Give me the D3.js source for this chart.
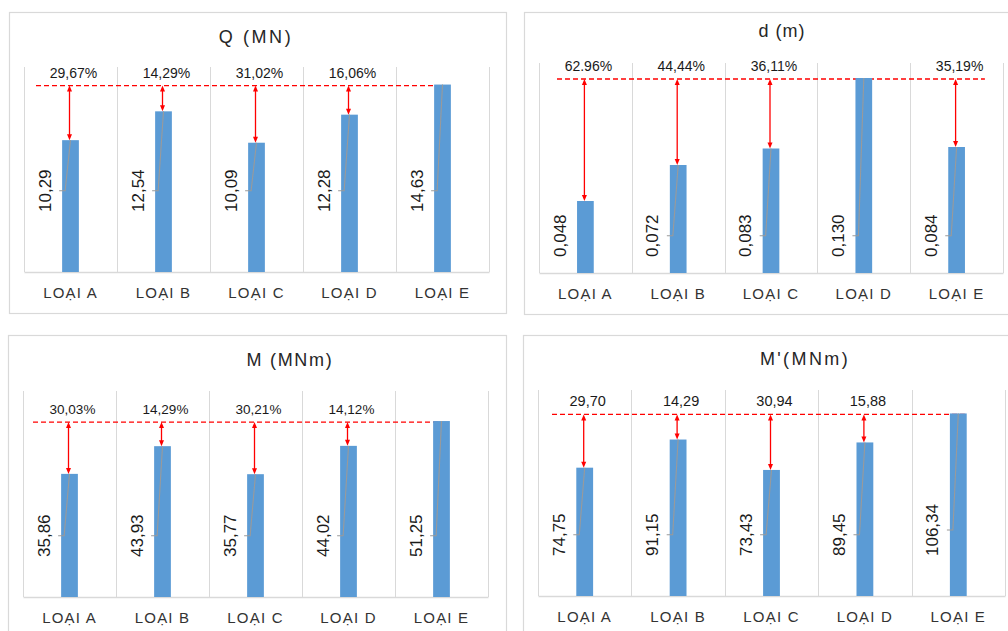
<!DOCTYPE html>
<html>
<head>
<meta charset="utf-8">
<script src="https://cdn.jsdelivr.net/npm/d3@7"></script>
<style>
  html, body { margin: 0; padding: 0; background: #fff; }
  svg { display: block; font-family: "Liberation Sans", Arial, sans-serif; }
</style>
</head>
<body>
<svg id="chart" width="1008" height="631"></svg>
<script>
// ---------- data ----------
const categories = ["LOẠI A", "LOẠI B", "LOẠI C", "LOẠI D", "LOẠI E"];
const titles = ["Q (MN)", "d (m)", "M (MNm)", "M'(MNm)"];
const valuesQ = [10.29, 12.54, 10.09, 12.28, 14.63];
const valuesD = [0.048, 0.072, 0.083, 0.130, 0.084];
const valuesM = [35.86, 43.93, 35.77, 44.02, 51.25];
const valuesM2 = [74.75, 91.15, 73.43, 89.45, 106.34];
const pctQ = ["29,67%", "14,29%", "31,02%", "16,06%", ""];
const pctD = ["62.96%", "44,44%", "36,11%", "", "35,19%"];
const pctM = ["30,03%", "14,29%", "30,21%", "14,12%", ""];
const pctM2 = ["29,70", "14,29", "30,94", "15,88", ""];
const yMaxes = [16, 0.14, 60, 120];
const decimals = [2, 3, 2, 2];

// ---------- layout / style ----------
const panels = [
  { values: valuesQ, pct: pctQ, title: titles[0], yMax: yMaxes[0], dec: decimals[0],
    box: [9, 12, 497, 301], plot: [24, 67, 489, 272], titlePos: [256, 37], titleLS: 2.6,
    labelStart: 60, dashStartOff: 12, dashEndFrac: 0.918, pctSize: 14 },
  { values: valuesD, pct: pctD, title: titles[1], yMax: yMaxes[1], dec: decimals[1],
    box: [524, 12, 520, 302], plot: [539, 63, 1003, 273], titlePos: [782, 31], titleLS: 1,
    labelStart: 16, dashStartOff: 18, dashEndFrac: 0.961, pctSize: 14 },
  { values: valuesM, pct: pctM, title: titles[2], yMax: yMaxes[2], dec: decimals[2],
    box: [8, 335, 498, 320], plot: [23, 391, 488, 597], titlePos: [290, 360], titleLS: 1.7,
    labelStart: 40, dashStartOff: 10, dashEndFrac: 0.897, pctSize: 13.5 },
  { values: valuesM2, pct: pctM2, title: titles[3], yMax: yMaxes[3], dec: decimals[3],
    box: [523, 335, 520, 320], plot: [538, 390, 1005, 596], titlePos: [805, 359], titleLS: 2.4,
    labelStart: 40, dashStartOff: 14, dashEndFrac: 0.914, pctSize: 14.5 }
];

const BAR = "#5B9BD5", GRID = "#d9d9d9", RED = "#ff0000", LEADER = "#9a9a9a";
const locale = d3.formatLocale({ decimal: ",", thousands: ".", grouping: [3], currency: ["", ""] });

const svg = d3.select("#chart");

panels.forEach(p => {
  const g = svg.append("g");
  const [L, T, R, B] = p.plot;

  // panel border
  g.append("rect")
    .attr("x", p.box[0] + 0.5).attr("y", p.box[1] + 0.5)
    .attr("width", p.box[2]).attr("height", p.box[3])
    .attr("fill", "#fff").attr("stroke", GRID).attr("stroke-width", 1.2);

  const x = d3.scaleBand().domain(categories).range([L, R]).paddingInner(0).paddingOuter(0);
  const y = d3.scaleLinear().domain([0, p.yMax]).range([B, T]);
  const bw = x.bandwidth() * 0.18;
  const fmt = locale.format("." + p.dec + "f");

  // vertical gridlines at category boundaries
  const bounds = categories.map(c => x(c)).concat([R]);
  g.selectAll(".vg").data(bounds).enter().append("line")
    .attr("x1", d => Math.round(d) + 0.5).attr("x2", d => Math.round(d) + 0.5)
    .attr("y1", T).attr("y2", B)
    .attr("stroke", GRID).attr("stroke-width", 1);

  // category axis
  const axis = d3.axisBottom(x).tickSize(0).tickPadding(15);
  const ag = g.append("g").attr("transform", `translate(0,${B})`).call(axis);
  ag.select(".domain").attr("stroke", GRID).attr("stroke-width", 1.5);
  ag.selectAll("text")
    .attr("font-size", 15).attr("fill", "#333")
    .attr("letter-spacing", "1.2px")
    .attr("font-family", "'Liberation Sans', Arial, sans-serif");

  // title
  g.append("text")
    .attr("x", p.titlePos[0]).attr("y", p.titlePos[1])
    .attr("text-anchor", "middle").attr("dominant-baseline", "central")
    .attr("font-size", 18).attr("fill", "#262626")
    .attr("letter-spacing", p.titleLS + "px")
    .text(p.title);

  const maxV = d3.max(p.values);
  const dashY = y(maxV) + 1;

  // dashed reference line (behind bars)
  g.append("line")
    .attr("x1", L + p.dashStartOff).attr("x2", L + (R - L) * p.dashEndFrac)
    .attr("y1", dashY).attr("y2", dashY)
    .attr("stroke", RED).attr("stroke-width", 1.3).attr("stroke-dasharray", "5,3");

  const data = categories.map((c, i) => ({ c, v: p.values[i], pct: p.pct[i] }));

  // bars
  g.selectAll(".bar").data(data).enter().append("rect")
    .attr("x", d => x(d.c) + x.bandwidth() / 2 - bw / 2)
    .attr("y", d => y(d.v))
    .attr("width", bw)
    .attr("height", d => B - y(d.v))
    .attr("fill", BAR);

  // arrows (double headed) from dashed line to bar top
  data.filter(d => d.v < maxV).forEach(d => {
    const cx = x(d.c) + x.bandwidth() / 2 - 1;
    const y0 = dashY, y1 = y(d.v);
    g.append("line").attr("x1", cx).attr("x2", cx).attr("y1", y0 + 3).attr("y2", y1 - 3)
      .attr("stroke", RED).attr("stroke-width", 1.3);
    g.append("path").attr("d", `M${cx},${y0} L${cx - 2.5},${y0 + 6} L${cx + 2.5},${y0 + 6}Z`).attr("fill", RED);
    g.append("path").attr("d", `M${cx},${y1} L${cx - 2.5},${y1 - 6} L${cx + 2.5},${y1 - 6}Z`).attr("fill", RED);
  });

  // percentage labels
  g.selectAll(".pct").data(data.filter(d => d.pct)).enter().append("text")
    .attr("x", d => x(d.c) + x.bandwidth() / 2 + 3)
    .attr("y", dashY - 13)
    .attr("text-anchor", "middle").attr("dominant-baseline", "central")
    .attr("font-size", p.pctSize).attr("fill", "#1a1a1a")
    .text(d => d.pct);

  // value labels (rotated) with leader lines
  data.forEach(d => {
    const barLeft = x(d.c) + x.bandwidth() / 2 - bw / 2;
    const cx = x(d.c) + x.bandwidth() / 2;
    const lx = barLeft - 17;
    const lyStart = B - p.labelStart;
    const txt = fmt(d.v);
    const t = g.append("text")
      .attr("transform", `translate(${lx},${lyStart}) rotate(-90)`)
      .attr("text-anchor", "start").attr("dominant-baseline", "central")
      .attr("font-size", 17).attr("fill", "#1a1a1a")
      .text(txt);
    const len = t.node().getComputedTextLength();
    const ly = lyStart - len / 2;
    const labelTop = lyStart - len;
    if (labelTop - y(d.v) > 20) {
      const hs = lx + 14;
      g.append("path")
        .attr("d", `M${hs},${ly} H${hs + 6} L${cx},${y(d.v)}`)
        .attr("fill", "none").attr("stroke", LEADER).attr("stroke-width", 1.1);
    }
  });
});
</script>
</body>
</html>
